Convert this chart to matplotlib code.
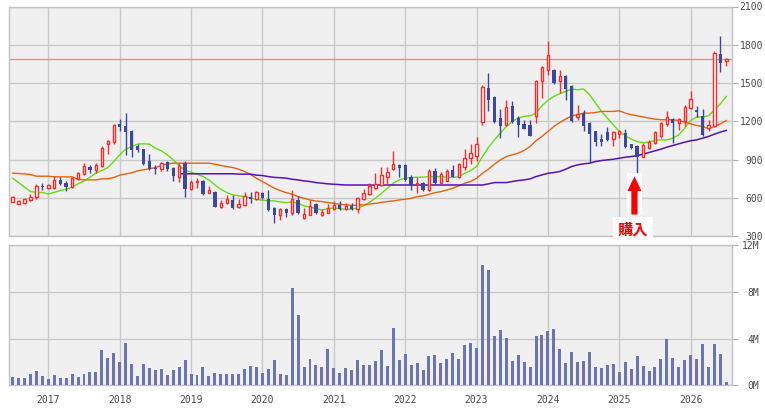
import matplotlib
matplotlib.use('Agg')
import matplotlib.pyplot as plt
from matplotlib.patches import Rectangle, FancyArrow
import pandas as pd

# ---------------- data ----------------
months = [str(p) for p in pd.period_range('2016-07', '2026-07', freq='M')]
years = ['2017', '2018', '2019', '2020', '2021', '2022', '2023', '2024', '2025', '2026']

opens = [570, 554, 559, 580, 604, 690, 677, 677, 740, 717, 685, 745, 785, 842, 816, 848, 1021, 1034, 1180, 1165,
         1125, 1002, 984, 890, 837, 824, 879, 837, 761, 871, 670, 722, 735, 636, 646, 526, 557, 583, 526, 541,
         607, 591, 638, 588, 520, 462, 512, 478, 583, 439, 468, 554, 462, 481, 509, 546, 515, 533, 509, 588,
         627, 680, 698, 761, 829, 858, 858, 766, 706, 716, 661, 811, 719, 735, 818, 766, 839, 908, 931, 1193,
         1461, 1387, 1225, 1172, 1321, 1225, 1177, 1172, 1243, 1513, 1599, 1599, 1513, 1557, 1479, 1230, 1264, 1185, 1120, 1062,
         1115, 1060, 1099, 1107, 1020, 1007, 923, 992, 1028, 1081, 1178, 1217, 1185, 1199, 1301, 1290, 1243, 1146, 1159, 1730,
         1670]
highs = [614, 583, 596, 628, 704, 714, 709, 774, 759, 732, 766, 803, 874, 853, 874, 1002, 1055, 1178, 1217, 1264,
         1133, 1023, 984, 947, 858, 884, 887, 845, 871, 890, 738, 754, 740, 693, 654, 583, 620, 623, 588, 643,
         646, 656, 646, 659, 525, 517, 523, 659, 614, 520, 583, 562, 509, 554, 575, 578, 557, 562, 609, 672,
         714, 792, 839, 845, 970, 866, 866, 779, 761, 720, 826, 832, 803, 824, 858, 876, 983, 1023, 1080, 1484,
         1580, 1395, 1300, 1363, 1355, 1238, 1211, 1206, 1526, 1636, 1833, 1610, 1605, 1562, 1487, 1330, 1290, 1191, 1125, 1102,
         1151, 1120, 1133, 1138, 1025, 1015, 1028, 1054, 1120, 1193, 1282, 1225, 1227, 1330, 1434, 1322, 1295, 1212, 1749, 1867,
         1696]
lows = [565, 549, 554, 575, 588, 662, 672, 667, 698, 656, 680, 740, 779, 798, 798, 842, 942, 1018, 1120, 937,
        923, 960, 858, 819, 788, 811, 806, 733, 720, 609, 657, 680, 625, 636, 526, 520, 552, 512, 520, 536,
        562, 583, 591, 499, 405, 426, 452, 462, 473, 433, 462, 473, 457, 478, 502, 504, 504, 504, 481, 583,
        619, 672, 693, 708, 818, 766, 735, 661, 635, 655, 653, 708, 708, 729, 761, 758, 818, 866, 892, 1167,
        1277, 1185, 1067, 1165, 1185, 1080, 1138, 1081, 1188, 1380, 1565, 1492, 1418, 1369, 1195, 1212, 1120, 871, 1002, 1002,
        1049, 1007, 1067, 992, 985, 792, 916, 984, 1020, 1067, 1159, 1028, 1133, 1159, 1295, 1230, 1086, 1120, 1154, 1584,
        1631]
closes = [607, 575, 591, 607, 690, 686, 701, 740, 704, 685, 751, 795, 848, 814, 855, 989, 1047, 1170, 1154, 1112,
          974, 976, 866, 827, 829, 871, 824, 767, 850, 670, 727, 727, 630, 657, 531, 557, 591, 520, 552, 617,
          591, 643, 599, 504, 465, 512, 478, 588, 478, 470, 533, 481, 491, 520, 541, 509, 538, 509, 596, 635,
          693, 706, 777, 803, 863, 837, 740, 698, 714, 661, 808, 719, 784, 811, 766, 866, 913, 950, 1020, 1470,
          1363, 1193, 1159, 1311, 1198, 1172, 1141, 1086, 1513, 1625, 1722, 1500, 1557, 1455, 1199, 1259, 1159, 1099, 1041, 1036,
          1054, 1112, 1120, 997, 989, 923, 1015, 1041, 1112, 1185, 1233, 1185, 1217, 1311, 1374, 1272, 1094, 1172, 1736, 1657,
          1689]
ma_short = [753, 719, 683, 648, 643, 641, 630, 643, 656, 667, 683, 709, 732, 761, 793, 814, 837, 884, 937, 981,
            1000, 1021, 1023, 1021, 989, 968, 937, 898, 850, 814, 801, 785, 767, 740, 701, 667, 641, 623, 615, 609,
            600, 588, 580, 578, 575, 567, 562, 567, 557, 536, 528, 515, 504, 515, 520, 515, 509, 509, 520, 536,
            565, 596, 635, 674, 714, 740, 753, 758, 761, 761, 766, 766, 766, 761, 758, 766, 792, 813, 845, 923,
            995, 1054, 1107, 1159, 1199, 1225, 1238, 1243, 1264, 1322, 1364, 1395, 1416, 1434, 1453, 1447, 1453, 1408, 1343, 1277,
            1225, 1172, 1120, 1086, 1060, 1041, 1033, 1036, 1049, 1054, 1054, 1067, 1094, 1146, 1206, 1233, 1233, 1243, 1290, 1337,
            1395]
ma_mid = [793, 790, 787, 782, 769, 769, 769, 764, 764, 764, 764, 745, 740, 740, 740, 748, 748, 759, 777, 787,
          795, 811, 819, 827, 837, 853, 866, 871, 871, 871, 871, 871, 871, 871, 864, 853, 845, 837, 824, 806,
          782, 753, 727, 701, 675, 656, 640, 627, 609, 596, 583, 575, 570, 562, 557, 549, 544, 541, 541, 546,
          551, 556, 564, 570, 575, 583, 588, 596, 609, 614, 627, 640, 648, 661, 674, 693, 714, 727, 753, 792,
          824, 863, 897, 923, 937, 950, 971, 1002, 1047, 1081, 1120, 1159, 1191, 1217, 1243, 1251, 1264, 1264, 1269, 1277,
          1277, 1277, 1282, 1264, 1251, 1243, 1233, 1225, 1217, 1212, 1212, 1212, 1206, 1193, 1180, 1167, 1159, 1141, 1159, 1180,
          1206]
ma_long = [None] * 28 + [788, 788, 788, 788, 788, 788, 788, 788, 788, 788, 785, 785,
           785, 777, 774, 766, 760, 757, 754, 745, 740, 732, 727, 719, 714, 709, 706, 703, 700, 700, 700, 700,
           700, 700, 700, 700, 700, 700, 700, 700, 700, 700, 700, 700, 700, 700, 700, 700, 700, 700, 700, 700,
           709, 719, 719, 719, 727, 735, 740, 748, 766, 779, 792, 798, 806, 824, 845, 858, 866, 871, 884, 892,
           897, 902, 910, 918, 923, 931, 942, 955, 968, 981, 997, 1010, 1023, 1036, 1047, 1054, 1067, 1081, 1099, 1115,
           1128]
volume_m = [0.71, 0.63, 0.63, 0.97, 1.23, 0.80, 0.54, 0.88, 0.63, 0.63, 0.97, 0.71, 0.97, 1.14, 1.14, 3.02, 2.34, 2.76, 2.00, 3.62,
            1.82, 0.80, 1.82, 1.48, 1.31, 1.40, 0.88, 1.31, 1.57, 2.17, 0.97, 0.88, 1.57, 0.80, 1.05, 0.97, 0.97, 0.97, 0.97, 1.40,
            1.65, 1.57, 1.05, 1.40, 2.17, 0.97, 0.88, 8.32, 6.01, 1.57, 2.25, 1.74, 1.57, 3.11, 1.48, 1.05, 1.48, 1.31, 2.17, 1.74,
            1.74, 2.08, 3.02, 1.65, 4.90, 2.17, 2.68, 1.74, 1.91, 1.31, 2.51, 2.59, 1.91, 2.25, 2.76, 2.25, 3.45, 3.62, 3.19, 10.29,
            9.86, 4.22, 4.73, 4.05, 2.08, 2.59, 2.00, 1.57, 4.22, 4.30, 4.65, 4.82, 3.11, 1.91, 2.85, 2.00, 2.08, 2.85, 1.57, 1.48,
            1.74, 1.82, 1.14, 2.00, 1.40, 2.51, 1.65, 1.23, 1.57, 2.25, 3.96, 2.34, 1.57, 2.17, 2.59, 2.25, 3.53, 1.57, 3.53, 2.68,
            0.29]
last_price = 1689
price_ticks = [300, 600, 900, 1200, 1500, 1800, 2100]
vol_ticks = [0, 4, 8, 12]
vol_labels = ['0M', '4M', '8M', '12M']
buy_label = '購入'
buy_month = '2025-04'

# ---------------- style ----------------
BG = '#f0f0f0'
GRID = '#c9c9c9'
RED = '#ff2a2a'
BLUE = '#3b48a0'
VOLC = '#6c74b2'
TXT = '#4a4a4a'
W, H = 765, 408

fig = plt.figure(figsize=(W / 100, H / 100), dpi=100)
fig.patch.set_facecolor('white')
ax1 = fig.add_axes([9 / W, 1 - 236 / H, 723 / W, 229.5 / H])
ax2 = fig.add_axes([9 / W, 1 - 385.3 / H, 723 / W, 140.3 / H])

xs = list(range(len(months)))
year_pos = [months.index(y + '-01') for y in years]

for ax in (ax1, ax2):
    ax.set_facecolor(BG)
    ax.set_xlim(-0.61, 120.95)
    ax.set_xticks(year_pos)
    ax.grid(True, color=GRID, lw=1)
    ax.set_axisbelow(True)
    for s in ax.spines.values():
        s.set_color('#c2c2c2')
        s.set_linewidth(1)
    ax.yaxis.tick_right()
    ax.tick_params(axis='x', length=0)
    ax.tick_params(axis='y', length=4, color='#b0b0b0', labelcolor=TXT)

# candles
for x, o, h, l, c in zip(xs, opens, highs, lows, closes):
    up = c >= o
    col = RED if up else BLUE
    ax1.vlines(x, l, h, color=col, lw=1, zorder=3)
    lo, hi = min(o, c), max(o, c)
    hgt = max(hi - lo, 6)
    if up:
        ax1.add_patch(Rectangle((x - 0.2, lo), 0.4, hgt, fc='white', ec=col, lw=1, zorder=4))
    else:
        ax1.add_patch(Rectangle((x - 0.28, lo), 0.56, hgt, fc=col, ec='none', zorder=4))

ax1.plot(xs, ma_short, color='#66dd11', lw=1, zorder=2.5)
ax1.plot(xs, ma_mid, color='#e8620e', lw=1, zorder=2.5)
ax1.plot(xs, [v if v is not None else float('nan') for v in ma_long], color='#5512b8', lw=1.1, zorder=2.5)
ax1.axhline(last_price, color='#f08a8a', lw=1, zorder=2)

ax1.set_ylim(300, 2100)
ax1.set_yticks(price_ticks)
ax1.set_yticklabels([str(v) for v in price_ticks], family='DejaVu Sans Mono', fontsize=7)
for lab in ax1.get_yticklabels():
    lab.set_horizontalalignment('right')
ax1.tick_params(axis='y', pad=18.5)
ax1.tick_params(axis='x', labelbottom=False)

# buy marker
bx = months.index(buy_month) - 0.45
ax1.add_patch(Rectangle((bx - 1.3, 465), 2.6, 328, fc='white', ec='none', zorder=5))
ax1.add_patch(FancyArrow(bx, 468, 0, 300, width=1.05, head_width=2.35, head_length=115,
                         length_includes_head=True, fc='#ff0000', ec='none', zorder=6))
ax1.text(bx - 0.2, 352, buy_label, ha='center', va='center', color='#ff0000', fontsize=11,
         fontweight='bold', family=['Noto Sans CJK JP', 'DejaVu Sans'], zorder=7, clip_on=False,
         bbox=dict(boxstyle='square,pad=0.3', fc='white', ec='none'))

# volume
ax2.bar(xs, volume_m, width=0.5, color=VOLC, zorder=3)
ax2.set_ylim(0, 12)
ax2.set_yticks(vol_ticks)
ax2.set_yticklabels(vol_labels, family='DejaVu Sans Mono', fontsize=7)
for lab in ax2.get_yticklabels():
    lab.set_horizontalalignment('right')
ax2.tick_params(axis='y', pad=15.5)
ax2.set_xticklabels(years, family='DejaVu Sans Mono', fontsize=7, color=TXT)
ax2.tick_params(axis='x', pad=7)

fig.savefig('out.png', dpi=100)
